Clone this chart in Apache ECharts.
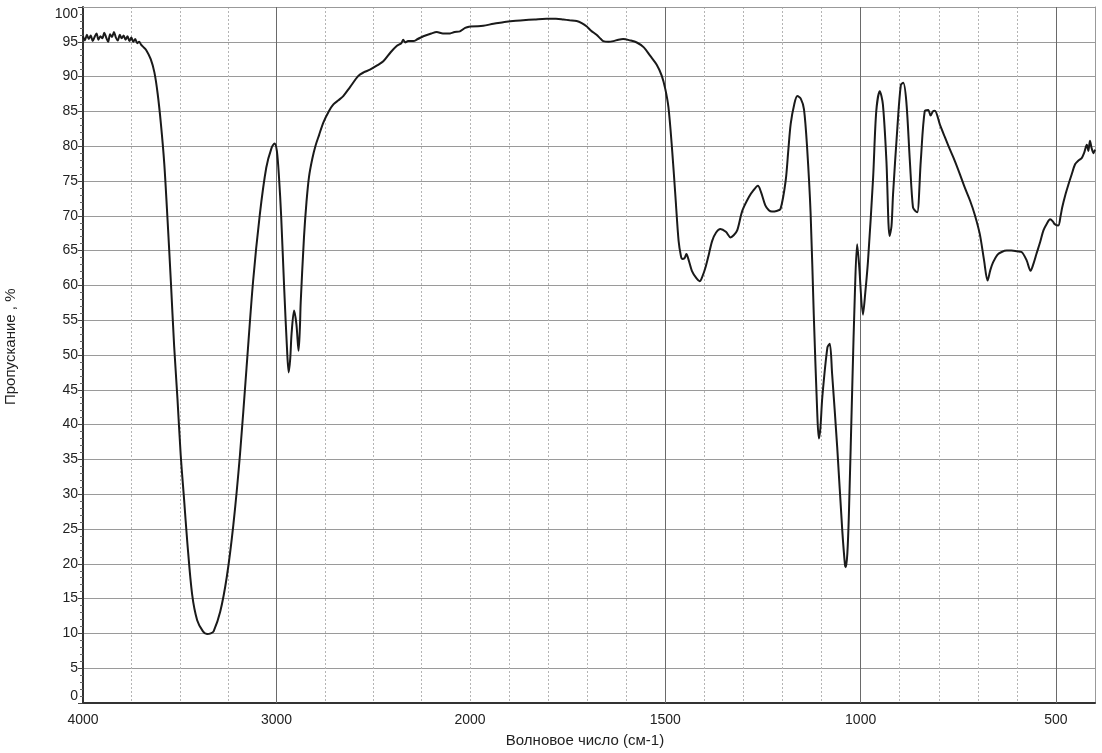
<!DOCTYPE html>
<html><head><meta charset="utf-8">
<script src="https://cdn.jsdelivr.net/npm/echarts@6/dist/echarts.min.js"></script>
<style>html,body{margin:0;padding:0;background:#fff}#c{width:1102px;height:753px}</style>
</head><body><div id="c"></div>
<script>
// Spectrum, high-wavenumber part (4000 -> 2000 cm-1)
const upperWn = [4000,3990,3980,3970,3960,3950,3940,3930,3920,3910,3900,3890,3880,3870,3860,3850,3840,3830,3820,3810,3800,3790,3780,3770,3760,3750,3740,3730,3720,3710,3700,3690,3673,3650,3631,3614,3597,3580,3563,3546,3529,3512,3495,3478,3461,3436,3410,3380,3359,3340,3325,3291,3257,3223,3189,3155,3121,3087,3053,3025,3010,2998,2987,2976,2960,2945,2937,2929,2922,2909,2897,2886,2879,2875,2858,2845,2832,2815,2798,2780,2758,2730,2706,2680,2655,2620,2577,2550,2517,2480,2448,2410,2379,2355,2345,2335,2320,2293,2270,2241,2200,2172,2140,2103,2080,2052,2025,2000];
const upperT  = [95.8,95.2,96.0,95.4,95.9,95.1,95.7,96.2,95.3,95.8,95.5,96.3,95.6,95.0,96.1,95.7,96.4,95.6,95.2,96.0,95.5,95.9,95.3,95.8,95.1,95.6,95.0,95.4,94.8,95.0,94.6,94.3,93.8,92.5,90.6,87.5,83.1,77.5,69.4,60.6,51.3,43.8,35.6,29.4,23.1,15.6,11.9,10.3,9.9,10.0,10.3,13.1,18.1,25.6,35.6,48.1,60.6,70.0,76.9,79.8,80.4,79.3,75.5,70.0,59.4,50.5,47.5,49.5,53.1,56.4,54.4,50.6,54.0,57.5,66.9,72.0,75.6,78.2,80.1,81.6,83.4,85.0,86.0,86.6,87.2,88.5,90.1,90.6,91.0,91.6,92.2,93.5,94.4,94.8,95.3,94.9,95.1,95.1,95.4,95.8,96.2,96.4,96.2,96.2,96.4,96.5,97.0,97.2];
// Spectrum, low-wavenumber part (2000 -> 400 cm-1), expanded scale
const lowerWn = [2000,1966,1940,1915,1890,1864,1835,1804,1780,1761,1745,1727,1714,1701,1690,1676,1665,1659,1645,1633,1620,1608,1590,1573,1555,1539,1522,1509,1500,1492,1483,1474,1466,1460,1457,1451,1446,1440,1432,1420,1412,1405,1397,1388,1380,1370,1359,1345,1333,1325,1316,1303,1286,1275,1263,1255,1244,1235,1227,1215,1205,1192,1185,1179,1170,1162,1153,1145,1137,1128,1120,1111,1107,1103,1098,1085,1079,1073,1060,1047,1040,1038,1034,1030,1021,1015,1009,1004,994,988,981,968,960,951,943,934,926,921,917,906,897,891,883,874,866,860,855,846,836,827,821,815,810,797,785,772,759,746,733,720,708,695,684,675,668,661,650,639,626,614,600,588,575,565,557,550,540,532,523,515,508,503,494,488,484,476,468,460,451,443,434,428,421,417,413,409,404,400];
const lowerT  = [97.2,97.3,97.6,97.8,98.0,98.1,98.2,98.3,98.3,98.2,98.1,98.0,97.7,97.2,96.6,96.0,95.4,95.1,95.0,95.1,95.3,95.4,95.2,94.9,94.2,93.0,91.7,90.1,88.2,85.6,79.8,72.7,66.4,64.2,63.8,63.9,64.5,63.6,62.1,61.0,60.6,61.3,62.6,64.6,66.4,67.6,68.1,67.7,66.9,67.2,67.9,70.7,72.7,73.6,74.3,73.4,71.5,70.8,70.6,70.7,71.0,75.0,79.5,83.2,86.0,87.2,86.8,85.3,79.8,70.3,55.9,41.6,38.0,39.5,44.0,51.1,51.6,47.3,36.8,24.8,19.8,19.5,21.5,27.2,46.3,58.3,65.9,63.0,55.8,59.0,63.6,75.5,85.0,87.9,86.0,77.9,67.1,68.5,73.1,82.6,88.8,89.1,86.4,77.9,71.2,70.7,70.5,77.9,85.0,85.2,84.4,85.0,85.1,83.1,81.4,79.6,77.9,76.0,74.0,72.2,70.2,67.4,63.6,60.7,62.2,63.3,64.4,64.8,65.0,65.0,64.9,64.8,63.6,62.1,63.2,64.5,66.3,67.9,68.9,69.5,69.2,68.8,68.6,70.0,71.2,73.0,74.5,75.9,77.4,77.9,78.3,79.0,80.2,79.3,80.8,79.8,79.0,79.5];
const upperLabels = [4000, 3000, 2000];
const lowerLabels = [1500, 1000, 500];
const upperMajor = [3000];
const lowerMajor = [1500, 1000, 500];
const xTitle = 'Волновое число (см-1)';
const yTitle = 'Пропускание , %';

const FONT = 'Liberation Sans, Arial, sans-serif';
const chart = echarts.init(document.getElementById('c'), null, {renderer: 'canvas'});
const zip = (a, b) => a.map((v, i) => [v, b[i]]);
const hGrid = {show: true, lineStyle: {color: '#9a9a9a', width: 1}};
const vGrid = {show: true, lineStyle: {color: '#b4b4b4', width: 1, type: [2, 2]}};
const lineStyle = {color: '#1a1a1a', width: 2};
const frame = {show: true, onZero: false, lineStyle: {color: '#999', width: 1}};
const bottomLine = {show: true, onZero: false, lineStyle: {color: '#333', width: 2}};
const none = {show: false};
const xLabel = list => ({color: '#222', fontFamily: FONT, fontSize: 14, margin: 10,
  formatter: v => list.includes(v) ? String(v) : ''});
const majorLines = vals => ({silent: true, symbol: 'none', label: none,
  lineStyle: {color: '#6a6a6a', width: 1, type: 'solid'},
  data: vals.map(v => ({xAxis: v}))});

chart.setOption({
  animation: false,
  backgroundColor: '#fff',
  grid: [
    {left: 83, top: 7, right: 632, bottom: 50},
    {left: 470, top: 7, right: 7, bottom: 50}
  ],
  xAxis: [
    {gridIndex: 0, type: 'value', min: 2000, max: 4000, interval: 250, inverse: true,
     axisLine: bottomLine, axisTick: none, splitLine: vGrid, axisLabel: xLabel(upperLabels)},
    {gridIndex: 1, type: 'value', min: 400, max: 2000, interval: 100, inverse: true,
     axisLine: bottomLine, axisTick: none, splitLine: vGrid, axisLabel: xLabel(lowerLabels)},
    {gridIndex: 0, type: 'value', min: 2000, max: 4000, inverse: true, position: 'top',
     axisLine: frame, axisTick: none, splitLine: none, axisLabel: none},
    {gridIndex: 1, type: 'value', min: 400, max: 2000, inverse: true, position: 'top',
     axisLine: frame, axisTick: none, splitLine: none, axisLabel: none}
  ],
  yAxis: [
    {gridIndex: 0, type: 'value', min: 0, max: 100, interval: 5,
      axisLine: {show: true, onZero: false, lineStyle: {color: '#333', width: 2}},
      axisTick: {show: true, length: 5, lineStyle: {color: '#444'}},
      minorTick: {show: true, splitNumber: 5, length: 3, lineStyle: {color: '#666'}},
      splitLine: hGrid,
      axisLabel: {color: '#222', fontFamily: FONT, fontSize: 14, margin: 5,
        verticalAlignMaxLabel: 'top', verticalAlignMinLabel: 'bottom'}},
    {gridIndex: 1, type: 'value', min: 0, max: 100, interval: 5, position: 'right',
      axisLine: frame, axisTick: none, axisLabel: none, splitLine: hGrid}
  ],
  series: [
    {type: 'line', xAxisIndex: 0, yAxisIndex: 0, data: zip(upperWn, upperT),
     showSymbol: false, smooth: 0.3, lineStyle: lineStyle, z: 5, markLine: majorLines(upperMajor)},
    {type: 'line', xAxisIndex: 1, yAxisIndex: 1, data: zip(lowerWn, lowerT),
     showSymbol: false, smooth: 0.3, lineStyle: lineStyle, z: 5, markLine: majorLines(lowerMajor)}
  ],
  graphic: [
    {type: 'text', x: 585, y: 733,
     style: {text: xTitle, fill: '#222', font: '15px ' + FONT, textAlign: 'center'}},
    {type: 'text', x: 3, y: 405, rotation: Math.PI / 2,
     style: {text: yTitle, fill: '#222', font: '15px ' + FONT}}
  ]
});
</script>
</body></html>
